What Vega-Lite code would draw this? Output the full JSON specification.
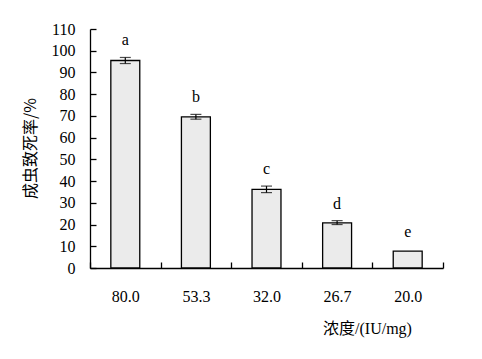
{
  "$schema": "https://vega.github.io/schema/vega-lite/v6.json",
  "autosize": "none",
  "width": 353,
  "height": 239,
  "padding": {"left": 90, "top": 29, "right": 39, "bottom": 91},
  "background": "white",
  "config": {
    "view": {"stroke": null},
    "font": "Liberation Serif",
    "axis": {
      "domainColor": "black",
      "domainWidth": 1.3,
      "tickColor": "black",
      "tickWidth": 1.3,
      "labelColor": "black",
      "titleColor": "black",
      "labelFont": "Liberation Serif",
      "labelFontSize": 16,
      "labelOverlap": false,
      "grid": false
    },
    "axisY": {
      "tickSize": -6,
      "labelPadding": 21,
      "labelOverlap": false,
      "labelFlush": false,
      "titleFont": "Noto Sans CJK SC",
      "titleFontSize": 16,
      "titleFontWeight": "normal",
      "titleX": -60,
      "titleY": 119,
      "titleAlign": "center",
      "titleBaseline": "middle"
    }
  },
  "data": {
    "values": [
      {"conc": "80.0", "mean": 95.5, "lo": 94.1, "hi": 96.9, "top": 96.9, "letter": "a"},
      {"conc": "53.3", "mean": 69.6, "lo": 68.5, "hi": 70.7, "top": 70.7, "letter": "b"},
      {"conc": "32.0", "mean": 36.2, "lo": 34.7, "hi": 37.7, "top": 37.7, "letter": "c"},
      {"conc": "26.7", "mean": 20.8, "lo": 20.0, "hi": 21.8, "top": 21.8, "letter": "d"},
      {"conc": "20.0", "mean": 7.8, "lo": null, "hi": null, "top": 8.6, "letter": "e"}
    ]
  },
  "encoding": {
    "x": {
      "field": "conc",
      "type": "nominal",
      "sort": null,
      "scale": {"paddingInner": 0, "paddingOuter": 0},
      "axis": {
        "tickBand": "extent",
        "tickSize": -6,
        "labelAngle": 0,
        "labelPadding": 26,
        "title": "浓度/(IU/mg)",
        "titleFont": "Liberation Serif, Noto Sans CJK SC",
        "titleFontSize": 16,
        "titleFontWeight": "normal",
        "titleX": 277,
        "titleY": 60,
        "titleAlign": "center",
        "titleBaseline": "middle"
      }
    }
  },
  "layer": [
    {
      "mark": {"type": "bar", "width": {"band": 0.41}, "fill": "#ebebeb", "stroke": "black", "strokeWidth": 1.3},
      "encoding": {
        "y": {
          "field": "mean",
          "type": "quantitative",
          "title": "成虫致死率/%",
          "scale": {"domain": [0, 110]},
          "axis": {"values": [0, 10, 20, 30, 40, 50, 60, 70, 80, 90, 100, 110], "labelOverlap": false, "tickCount": 12}
        }
      }
    },
    {
      "mark": {"type": "rule", "color": "black", "strokeWidth": 1.2},
      "encoding": {
        "y": {"field": "lo", "type": "quantitative", "title": "成虫致死率/%", "axis": {"values": [0, 10, 20, 30, 40, 50, 60, 70, 80, 90, 100, 110], "labelOverlap": false, "tickCount": 12}},
        "y2": {"field": "hi"}
      }
    },
    {
      "mark": {"type": "tick", "color": "black", "size": 11, "thickness": 1.2},
      "encoding": {"y": {"field": "hi", "type": "quantitative", "title": "成虫致死率/%", "axis": {"values": [0, 10, 20, 30, 40, 50, 60, 70, 80, 90, 100, 110], "labelOverlap": false, "tickCount": 12}}}
    },
    {
      "mark": {"type": "tick", "color": "black", "size": 11, "thickness": 1.2},
      "encoding": {"y": {"field": "lo", "type": "quantitative", "title": "成虫致死率/%", "axis": {"values": [0, 10, 20, 30, 40, 50, 60, 70, 80, 90, 100, 110], "labelOverlap": false, "tickCount": 12}}}
    },
    {
      "mark": {"type": "text", "font": "Liberation Serif", "fontSize": 16, "color": "black", "baseline": "middle", "dy": -17},
      "encoding": {
        "y": {"field": "top", "type": "quantitative", "title": "成虫致死率/%", "axis": {"values": [0, 10, 20, 30, 40, 50, 60, 70, 80, 90, 100, 110], "labelOverlap": false, "tickCount": 12}},
        "text": {"field": "letter"}
      }
    }
  ]
}
